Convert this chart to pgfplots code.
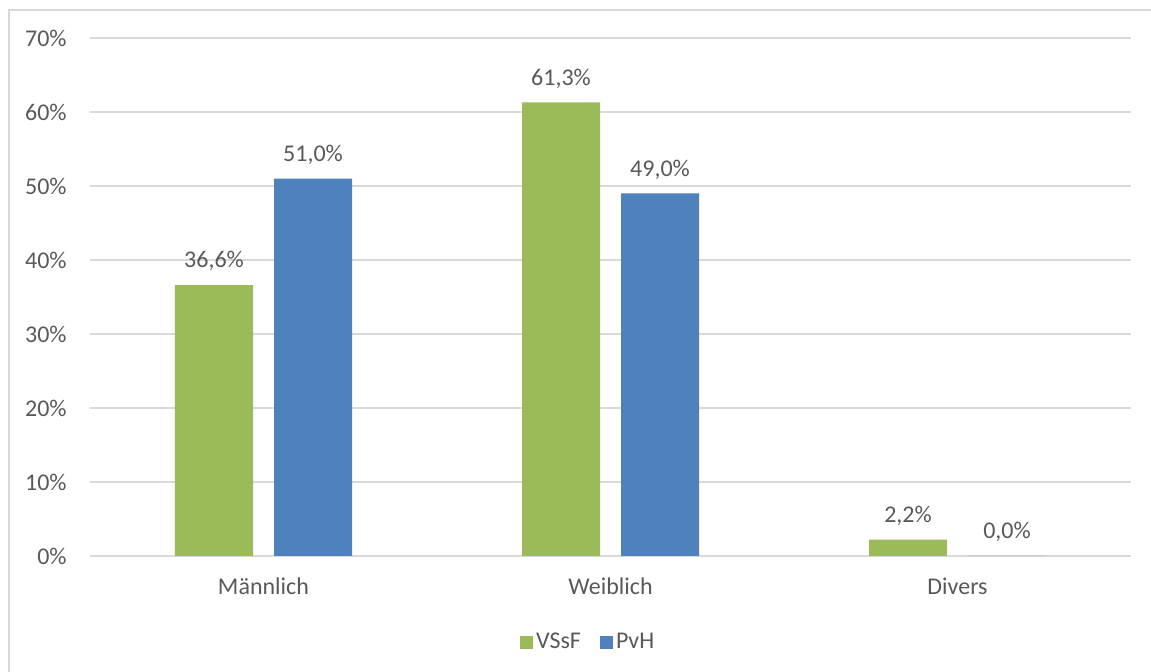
\documentclass[border=0pt]{standalone}
\usepackage{pgfplots}
\pgfplotsset{compat=1.18}
\usepackage{fontspec}
\setmainfont{Carlito}

\definecolor{vssf}{HTML}{9BBB59}
\definecolor{pvh}{HTML}{4F81BD}
\definecolor{txt}{HTML}{595959}
\definecolor{gridc}{HTML}{D9D9D9}

\begin{document}
\fontsize{12pt}{14pt}\selectfont
\begin{tikzpicture}
% page area and chart frame
\path[use as bounding box] (0,0) rectangle (575.5pt,336pt);
\draw[gridc, line width=1pt] (4.5pt,0) -- (4.5pt,331pt) -- (575.5pt,331pt);

\begin{axis}[
  at={(45pt,58pt)}, anchor=south west,
  scale only axis, width=520.5pt, height=259pt,
  ybar=10.5pt, bar width=39pt,
  xmin=-0.5, xmax=2.5, ymin=0, ymax=70,
  xtick={0,1,2}, xticklabels={Männlich,Weiblich,Divers},
  ytick={0,10,...,70},
  yticklabel={\pgfmathprintnumber{\tick}\%},
  /pgf/number format/assume math mode=true,
  axis line style={draw=none},
  major tick length=0pt,
  ymajorgrids, major grid style={gridc, line width=1pt},
  tick label style={text=txt, font=\fontsize{12pt}{14pt}\selectfont},
  yticklabel style={anchor=east, inner sep=0pt, xshift=-11.5pt},
  xticklabel style={anchor=base, inner sep=0pt, yshift=-19.5pt},
  nodes near coords={\pgfmathprintnumber[fixed,fixed zerofill,precision=1,use comma]{\pgfplotspointmeta}\%},
  nodes near coords style={anchor=center, inner sep=0pt, yshift=12pt, text=txt, font=\fontsize{12pt}{14pt}\selectfont},
  legend columns=2,
  legend style={at={(0.479,-0.167)}, anchor=center, draw=none, fill=none,
    text=txt, font=\fontsize{12pt}{14pt}\selectfont,
    /tikz/every even column/.append style={column sep=8pt},
    nodes={inner sep=1.5pt}},
  legend image code/.code={\fill[#1] (0pt,-3.25pt) rectangle (6.5pt,3.25pt);},
]
\addplot[fill=vssf, draw=none] coordinates {(0,36.6) (1,61.3) (2,2.2)};
\addplot[fill=pvh, draw=none] coordinates {(0,51.0) (1,49.0) (2,0.0)};
\legend{VSsF,PvH}
\end{axis}
\end{tikzpicture}
\end{document}
